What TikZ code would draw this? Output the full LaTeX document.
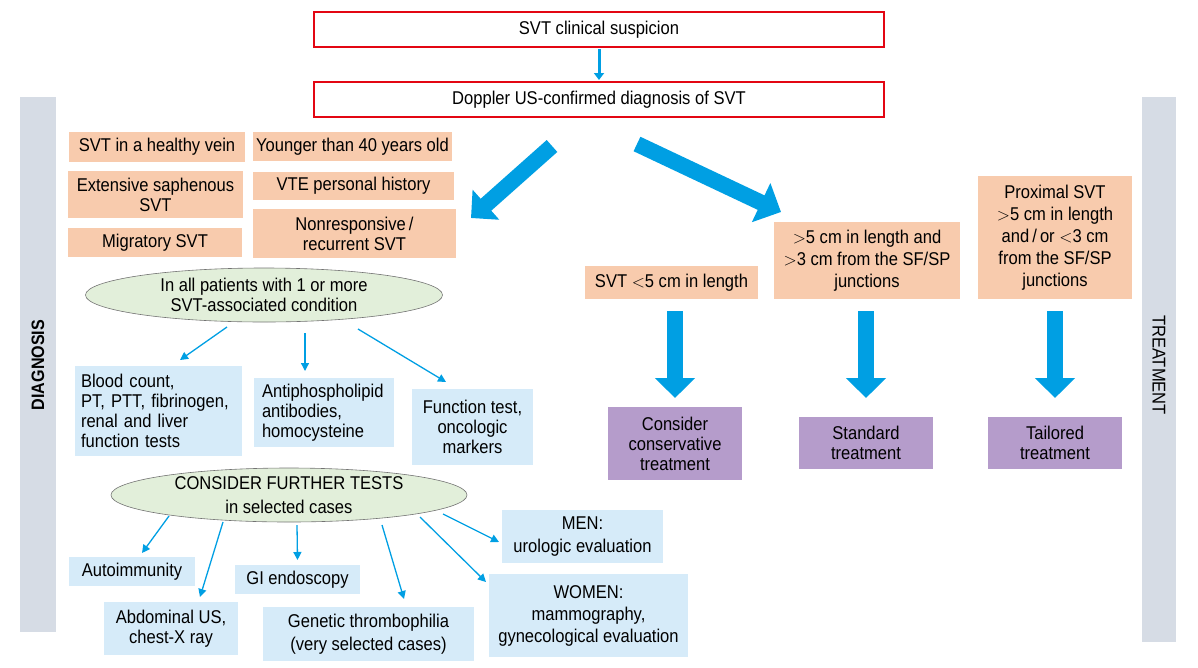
\documentclass[tikz,border=0pt]{standalone}
\usepackage{fontspec}
\setmainfont{Liberation Sans}[FakeStretch=0.895]
\usetikzlibrary{arrows.meta,shapes.geometric,calc}
\definecolor{peach}{HTML}{F8CBAD}
\definecolor{lblue}{HTML}{D6EBF9}
\definecolor{lilac}{HTML}{B59CCB}
\definecolor{lgreen}{HTML}{E2EFDA}
\definecolor{barg}{HTML}{D6DCE5}
\definecolor{arrblue}{HTML}{009FE3}
\definecolor{redb}{HTML}{E30613}
\tikzset{
  wh/.style 2 args={minimum width=#1pt, minimum height=#2pt},
  basebox/.style={inner sep=0pt, align=center, outer sep=0pt},
  redbox/.style={basebox, draw=redb, line width=2pt, fill=white},
  peachbox/.style={basebox, fill=peach},
  bluebox/.style={basebox, fill=lblue},
  lilacbox/.style={basebox, fill=lilac},
  oval/.style={ellipse, basebox, draw=black!55, line width=0.6pt, fill=lgreen},
  sidebar/.style={basebox, fill=barg},
  thinarr/.style={draw=arrblue, line width=1.3pt, -{Triangle[width=8pt,length=8pt]}},
  bigarr/.style={draw=arrblue, line width=16pt, -{Triangle[width=39pt,length=20pt]}},
  smallarr/.style={draw=arrblue, line width=3pt, -{Triangle[width=10pt,length=7pt]}},
}
\begin{document}
\begin{tikzpicture}[x=1pt,y=-1pt, font=\fontsize{18.5}{20}\selectfont]
\useasboundingbox (0,0) rectangle (1198,667);

% side bars
\node[sidebar, wh={36}{535}] (diagbar) at (38,364.5) {};
\node[rotate=90, font=\fontsize{18}{20}\selectfont\bfseries] (diagtxt) at (38,365) {DIAGNOSIS};
\node[sidebar, wh={34}{545}] (treatbar) at (1159,369.5) {};
\node[rotate=-90] (treattxt) at (1159,365) {TREATMENT};

% top
\node[redbox, wh={570}{35}] (top1) at (599,29.5) {SVT clinical suspicion};
\node[redbox, wh={570}{35}] (top2) at (599,99.5) {Doppler US-confirmed diagnosis of SVT};
\draw[smallarr] ($(top1.south)+(0,2)$) -- ($(top2.north)+(0,-2)$);

% peach conditions
\node[peachbox, wh={176}{30}] (healthy) at (157,147) {SVT in a healthy vein};
\node[peachbox, wh={199}{29}] (younger) at (352.5,146.5) {Younger than 40 years old};
\node[peachbox, wh={175}{47}] (extensive) at (155.5,194.5) {Extensive saphenous\\SVT};
\node[peachbox, wh={201}{28}] (vte) at (353.5,186) {VTE personal history};
\node[peachbox, wh={174}{29}] (migratory) at (155,242.5) {Migratory SVT};
\node[peachbox, wh={203}{49}] (nonresp) at (354.5,233.5) {Nonresponsive\,/\\recurrent SVT};

% big diagonal arrows
\coordinate (ldA) at (552,146);
\coordinate (ldB) at (471,218);
\coordinate (rdA) at (637,144);
\coordinate (rdB) at (781,212);
\draw[bigarr] (ldA) -- (ldB);
\draw[draw=arrblue, line width=16pt, -{Triangle[width=42pt,length=22pt]}] (rdA) -- (rdB);

% diagnosis
\node[oval, wh={357}{54}] (ell1) at (264,295) {In all patients with 1 or more\\SVT-associated condition};
\node[bluebox, wh={167}{90}, text width=155pt, inner xsep=6pt, align=left] (blood) at (158.5,411)
  {Blood count,\\PT, PTT, fibrinogen,\\renal and liver\\function tests};
\node[bluebox, wh={140}{69}, text width=124pt, inner xsep=8pt, align=left] (antiph) at (324,412.5)
  {Antiphospholipid\\antibodies,\\homocysteine};
\node[bluebox, wh={121}{76}] (functest) at (472.5,427) {Function test,\\oncologic\\markers};

\draw[thinarr] ($(ell1.south)+(-37,5)$) -- ($(blood.north)+(21.5,-6)$);
\draw[thinarr] ($(ell1.south)+(41,11)$) -- ($(antiph.north)+(-19,-7)$);
\draw[thinarr] ($(ell1.south)+(94,7)$) -- ($(functest.north)+(-26.5,-7)$);

\node[oval, wh={356}{54}, font=\fontsize{18.5}{24}\selectfont] (ell2) at (289,495) {CONSIDER FURTHER TESTS\\in selected cases};
\node[bluebox, wh={126}{29}] (autoimm) at (132,571.5) {Autoimmunity};
\node[bluebox, wh={134}{53}] (abdominal) at (171,628.5) {Abdominal US,\\chest-X ray};
\node[bluebox, wh={125}{29}] (gi) at (297.5,579.5) {GI endoscopy};
\node[bluebox, wh={211}{54}, font=\fontsize{18.5}{23}\selectfont] (genetic) at (368.5,634) {Genetic thrombophilia\\(very selected cases)};
\node[bluebox, wh={161}{53}, font=\fontsize{18.5}{23}\selectfont] (men) at (582.5,536.5) {MEN:\\urologic evaluation};
\node[bluebox, wh={199}{83}, font=\fontsize{18.5}{22}\selectfont] (women) at (588.5,615.5) {WOMEN:\\mammography,\\gynecological evaluation};

\draw[thinarr] ($(ell2.south)+(-120,-6)$) -- ($(autoimm.north)+(10,-4)$);
\draw[thinarr] ($(ell2.south)+(-66,0)$) -- ($(abdominal.north)+(29,-5)$);
\draw[thinarr] ($(ell2.south)+(8,3)$) -- ($(gi.north)+(0,-5)$);
\draw[thinarr] ($(ell2.south)+(93,3)$) -- ($(genetic.north)+(35.5,-8)$);
\draw[thinarr] ($(ell2.south)+(131,-5)$) -- ($(women.north west)+(-3,8)$);
\draw[thinarr] ($(ell2.south)+(154,-8)$) -- ($(men.west)+(-3,5.5)$);

% treatment
\node[peachbox, wh={173}{33}] (svt5) at (671.5,282.5) {SVT ${<}$5 cm in length};
\node[peachbox, wh={186}{77}, font=\fontsize{18.5}{22}\selectfont] (mid) at (867,260.5) {${>}$5 cm in length and\\${>}$3 cm from the SF/SP\\junctions};
\node[peachbox, wh={154}{123}, font=\fontsize{18.5}{22}\selectfont] (prox) at (1055,237.5) {Proximal SVT\\${>}$5 cm in length\\and\,/\,or ${<}$3 cm\\from the SF/SP\\junctions};
\node[lilacbox, wh={134}{73}] (cons) at (675,443.5) {Consider\\conservative\\treatment};
\node[lilacbox, wh={134}{52}] (std) at (866,443) {Standard\\treatment};
\node[lilacbox, wh={134}{52}] (tail) at (1055,443) {Tailored\\treatment};

\draw[bigarr] ($(svt5.south -| cons.north)+(0,12)$) -- ($(cons.north)+(0,-9)$);
\draw[bigarr] ($(mid.south -| std.north)+(0,12)$) -- ($(std.north)+(0,-19)$);
\draw[bigarr] ($(prox.south -| tail.north)+(0,12)$) -- ($(tail.north)+(0,-19)$);
\end{tikzpicture}
\end{document}
